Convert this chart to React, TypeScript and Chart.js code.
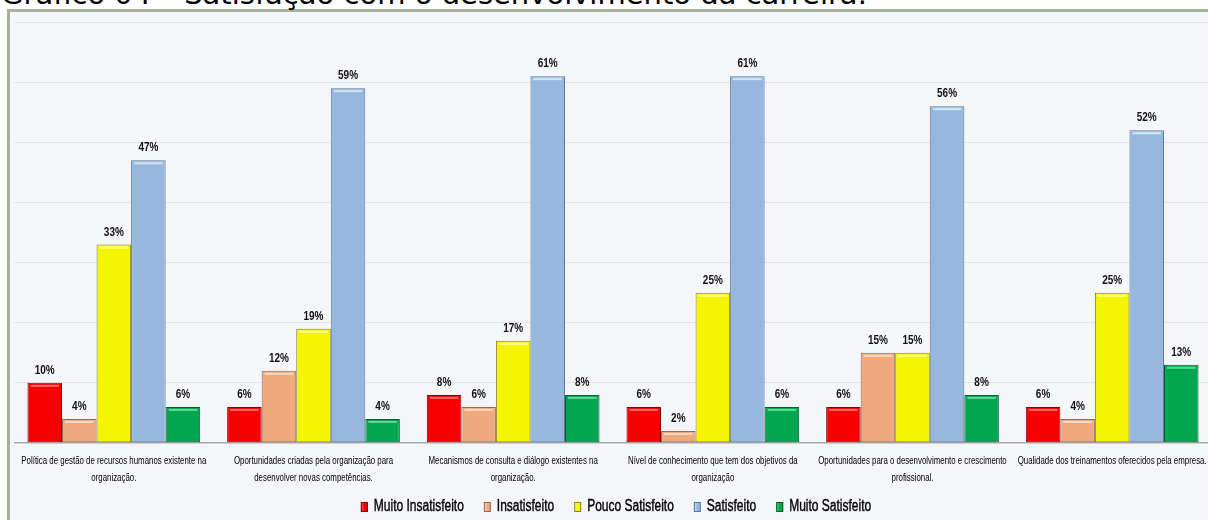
import React, { useEffect, useRef } from "react";
import { Chart, registerables } from "chart.js";

Chart.register(...registerables);

const categories: string[][] = [
  ["Política de gestão de recursos humanos existente na", "organização."],
  ["Oportunidades criadas pela organização para", "desenvolver novas competências."],
  ["Mecanismos de consulta e diálogo existentes na", "organização."],
  ["Nível de conhecimento que tem dos objetivos da", "organização"],
  ["Oportunidades para o desenvolvimento e crescimento", "profissional."],
  ["Qualidade dos treinamentos oferecidos pela empresa."],
];

const seriesNames = ["Muito Insatisfeito", "Insatisfeito", "Pouco Satisfeito", "Satisfeito", "Muito Satisfeito"];

const muitoInsatisfeito = [10, 6, 8, 6, 6, 6];
const insatisfeito = [4, 12, 6, 2, 15, 4];
const poucoSatisfeito = [33, 19, 17, 25, 15, 25];
const satisfeito = [47, 59, 61, 61, 56, 52];
const muitoSatisfeito = [6, 4, 8, 6, 8, 13];

const fillColors = ["#F60000", "#EEAA7E", "#F5F500", "#95B8DC", "#00A650"];
const edgeColors = ["#7A0A0A", "#8E6A55", "#85852A", "#5E7693", "#0E5A2E"];
const highlightColors = ["#FF6A6A", "#FFD9BE", "#FFFF9A", "#D2E6F8", "#5ADB93"];

const FONT = "'Liberation Sans', Arial, sans-serif";

function drawSqueezed(
  ctx: CanvasRenderingContext2D,
  text: string,
  x: number,
  y: number,
  f: number,
  align: CanvasTextAlign,
  stroke = 0
) {
  ctx.save();
  ctx.translate(x, y);
  ctx.scale(f, 1);
  ctx.textAlign = align;
  ctx.fillText(text, 0, 0);
  if (stroke > 0) {
    ctx.lineWidth = stroke;
    ctx.strokeStyle = ctx.fillStyle as string;
    ctx.strokeText(text, 0, 0);
  }
  ctx.restore();
}

const decor = {
  id: "decor",
  afterDatasetsDraw(chart: any) {
    const ctx: CanvasRenderingContext2D = chart.ctx;
    const area = chart.chartArea;

    // bar highlights + value labels
    ctx.save();
    ctx.font = `bold 13.5px ${FONT}`;
    const vf = 20 / ctx.measureText("47%").width;
    ctx.restore();
    chart.data.datasets.forEach((ds: any, di: number) => {
      const meta = chart.getDatasetMeta(di);
      meta.data.forEach((bar: any, i: number) => {
        const { x, y, width } = bar.getProps(["x", "y", "width"], true);
        ctx.save();
        ctx.fillStyle = highlightColors[di];
        ctx.fillRect(x - width / 2 + 3, y + 2, width - 6, 2);
        ctx.restore();
        ctx.save();
        ctx.font = `bold 13.5px ${FONT}`;
        ctx.fillStyle = "#111";
        ctx.textBaseline = "alphabetic";
        drawSqueezed(ctx, `${ds.data[i]}%`, x, y - 9, vf, "center");
        ctx.restore();
      });
    });

    // category labels
    const xs = chart.scales.x;
    ctx.save();
    ctx.font = `11.5px ${FONT}`;
    ctx.fillStyle = "#000";
    ctx.textBaseline = "middle";
    const f = 185 / ctx.measureText(categories[0][0]).width;
    categories.forEach((lines, i) => {
      const cx = xs.getPixelForValue(i);
      lines.forEach((ln, j) => {
        drawSqueezed(ctx, ln, cx, area.bottom + 18 + j * 17, f, "center");
      });
    });
    ctx.restore();

    // legend
    ctx.save();
    ctx.font = `16px ${FONT}`;
    ctx.textBaseline = "middle";
    const lf = 90 / ctx.measureText(seriesNames[0]).width;
    const box = 7;
    const gapText = 6;
    const gapItem = 20;
    const widths = seriesNames.map((s) => ctx.measureText(s).width * lf);
    const total = widths.reduce((a, w) => a + box + gapText + w, 0) + gapItem * (seriesNames.length - 1);
    let lx = (area.left + area.right) / 2 + 3 - total / 2;
    const ly = area.bottom + 64;
    seriesNames.forEach((s, k) => {
      const g = ctx.createLinearGradient(lx, 0, lx + box, 0);
      g.addColorStop(0, highlightColors[k]);
      g.addColorStop(0.5, fillColors[k]);
      g.addColorStop(1, fillColors[k]);
      ctx.fillStyle = g;
      ctx.fillRect(lx, ly - 5, box, 10);
      ctx.strokeStyle = edgeColors[k];
      ctx.lineWidth = 1;
      ctx.strokeRect(lx + 0.5, ly - 4.5, box - 1, 9);
      ctx.fillStyle = "#000";
      drawSqueezed(ctx, s, lx + box + gapText, ly, lf, "left", 0.4);
      lx += box + gapText + widths[k] + gapItem;
    });
    ctx.restore();
  },
};

export default function App() {
  const ref = useRef<HTMLCanvasElement | null>(null);

  useEffect(() => {
    if (!ref.current) return;
    const allSeries = [muitoInsatisfeito, insatisfeito, poucoSatisfeito, satisfeito, muitoSatisfeito];
    const chart = new Chart(ref.current, {
      type: "bar",
      data: {
        labels: categories.map((c) => c.join(" ")),
        datasets: allSeries.map((d, k) => ({
          label: seriesNames[k],
          data: d,
          backgroundColor: fillColors[k],
          borderColor: edgeColors[k],
          borderWidth: 1,
          borderSkipped: false,
          categoryPercentage: 0.865,
          barPercentage: 1,
        })),
      },
      options: {
        responsive: false,
        animation: false,
        layout: { padding: { left: 3, right: 3, top: 9, bottom: 69 } },
        plugins: {
          tooltip: { enabled: false },
          legend: { display: false },
        },
        scales: {
          x: {
            grid: { display: false },
            border: { display: false },
            ticks: { display: false },
          },
          y: {
            min: 0,
            max: 70,
            ticks: { display: false, stepSize: 10 },
            border: { display: false },
            grid: {
              drawTicks: false,
              color: (c: any) => (c.tick && c.tick.value === 0 ? "#A8A8A8" : "#E4E6EC"),
              lineWidth: (c: any) => (c.tick && c.tick.value === 0 ? 1.5 : 1),
            },
          },
        },
      },
      plugins: [decor],
    });
    return () => chart.destroy();
  }, []);

  return (
    <div
      style={{
        position: "fixed",
        left: 0,
        top: 0,
        width: 1208,
        height: 520,
        overflow: "hidden",
        background: "#fff",
      }}
    >
      <div
        style={{
          position: "absolute",
          left: 7,
          top: 9,
          width: 1220,
          height: 530,
          boxSizing: "border-box",
          border: "3px solid #A6B19E",
          background: "#F5F6FA",
        }}
      />
      <div
        style={{
          position: "absolute",
          left: 1,
          top: -22,
          fontFamily: "'DejaVu Sans', sans-serif",
          fontSize: 29,
          lineHeight: "33px",
          whiteSpace: "nowrap",
          color: "#000",
          zIndex: 2,
        }}
      >
        Gráfico 04 – Satisfação com o desenvolvimento da carreira.
      </div>
      <canvas
        ref={ref}
        width={1204}
        height={507}
        style={{ position: "absolute", left: 11, top: 13, width: 1204, height: 507 }}
      />
    </div>
  );
}
